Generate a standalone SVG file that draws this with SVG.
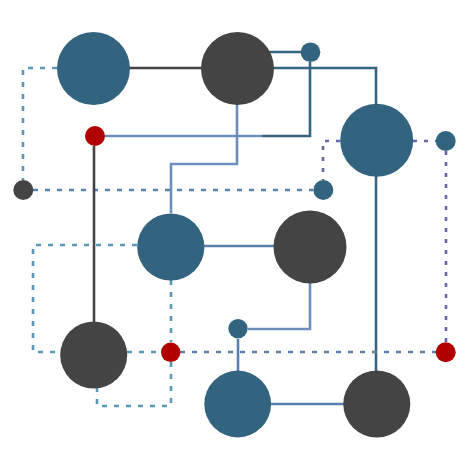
<svg xmlns="http://www.w3.org/2000/svg" width="469" height="469" viewBox="0 0 469 469">
<style>
.e{fill:none;stroke-width:2.6}
.dk{stroke:#444444}
.tl{stroke:#35657f}
.sb{stroke:#6b8fba}
.sb2{stroke:#5b7fad}
.dt{stroke:#5799b4;stroke-dasharray:5 7}
.db{stroke:#5a82ad;stroke-dasharray:5 7}
.dp{stroke:#6666a6;stroke-dasharray:4 7}
.nt{fill:#33647f}
.nd{fill:#444444}
.nr{fill:#b00000}
</style>
<rect width="469" height="469" fill="#ffffff"/>
<g id="connectors">
<path class="e dk" d="M128,68 H203"/>
<path class="e dt" d="M57,68 H23 V180"/>
<path class="e db" d="M33,190 H313"/>
<path class="e sb" d="M105,136 H262"/>
<path class="e tl" d="M262,136 H310 V62"/>
<path class="e sb" d="M237,104 V164 H171 V213"/>
<path class="e tl" d="M265,52 H301"/>
<path class="e tl" d="M270,68 H376 V105"/>
<path class="e tl" d="M376,176 V372"/>
<path class="e dp" d="M413,141 H436"/>
<path class="e dp" d="M446,151 V342"/>
<path class="e dp" d="M340,141 H323 V180"/>
<path class="e sb2" d="M203,246 H274"/>
<path class="e dt" d="M137,245 H33 V352 H60"/>
<path class="e dt" d="M171,280 V342"/>
<path class="e dt" d="M171,362 V406 H97 V388"/>
<path class="e dt" d="M127,352 H161"/>
<path class="e db" d="M180,352 H436"/>
<path class="e dk" d="M94,146 V322"/>
<path class="e sb" d="M310,282 V329 H248"/>
<path class="e sb2" d="M238,339 V371"/>
<path class="e sb2" d="M270,404 H344"/>
</g>
<g id="n1"><circle class="nt" cx="93.5" cy="68.5" r="36.5"/></g>
<g id="n2"><circle class="nd" cx="237.5" cy="68.5" r="36.5"/></g>
<g id="n3"><circle class="nt" cx="310.5" cy="52.3" r="9.8"/></g>
<g id="n4"><circle class="nt" cx="376.7" cy="140.3" r="36.5"/></g>
<g id="n5"><circle class="nt" cx="445.7" cy="141" r="10"/></g>
<g id="n6"><circle class="nt" cx="323.3" cy="190" r="10"/></g>
<g id="n7"><circle class="nr" cx="95" cy="136" r="10"/></g>
<g id="n8"><circle class="nd" cx="23.3" cy="190" r="10"/></g>
<g id="n9"><circle class="nt" cx="170.8" cy="247" r="33.6"/></g>
<g id="n10"><circle class="nd" cx="310" cy="247" r="36.5"/></g>
<g id="n11"><circle class="nd" cx="93.7" cy="355" r="33.5"/></g>
<g id="n12"><circle class="nr" cx="170.7" cy="352.3" r="9.7"/></g>
<g id="n13"><circle class="nt" cx="238" cy="328.7" r="9.7"/></g>
<g id="n14"><circle class="nt" cx="237.7" cy="404" r="33.4"/></g>
<g id="n15"><circle class="nd" cx="376.8" cy="404" r="33.5"/></g>
<g id="n16"><circle class="nr" cx="445.7" cy="352.3" r="10"/></g>
</svg>
